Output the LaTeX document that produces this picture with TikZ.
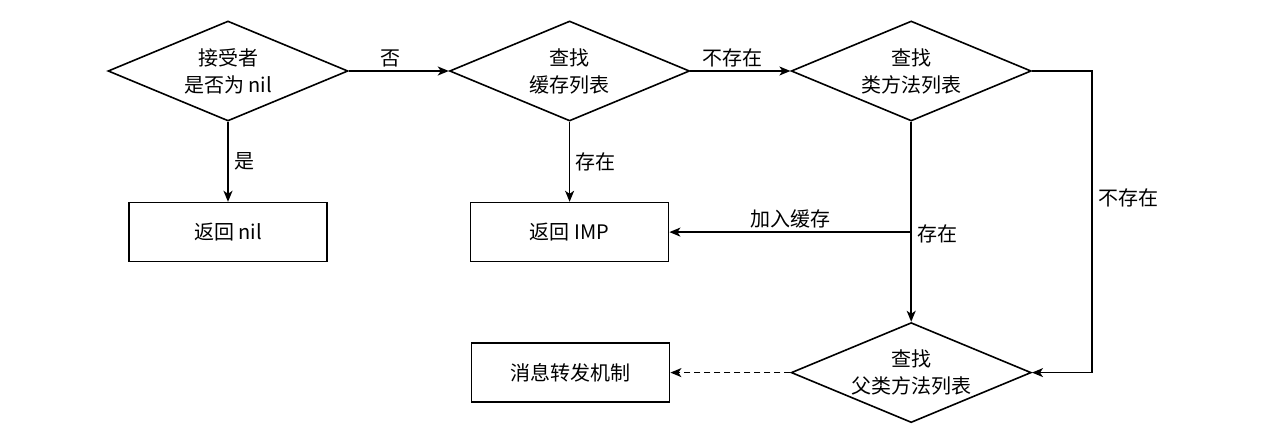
\documentclass[tikz,border=0pt]{standalone}
\usepackage{fontspec}
\setmainfont{Noto Sans CJK SC}
\usepackage{tikz}
\usetikzlibrary{arrows.meta, positioning, shapes.geometric}
\tikzset{
  decision/.style={
    diamond, draw=black, line width=1.6pt, aspect=2.4, inner sep=0pt,
    minimum width=240pt, minimum height=100pt, align=center
  },
  action/.style={
    draw=black, line width=1.6pt,
    minimum width=198pt, minimum height=59pt, align=center
  },
  arr/.style={-{Stealth[length=11pt, width=9pt, inset=3pt]}, line width=1.6pt},
  darr/.style={arr, dash pattern=on 6pt off 4pt}
}

\begin{document}
\begin{tikzpicture}[x=1pt, y=-1pt, every node/.style={font=\fontsize{20}{27}\selectfont}]
    \useasboundingbox (0,0) rectangle (1278,444);

    \node[decision] (recv) at (228,71) {接受者\\是否为 nil};
    \node[decision, right=100pt of recv] (cache) {查找\\缓存列表};
    \node[decision, right=100pt of cache] (clsm) {查找\\类方法列表};
    \node[action, below=80pt of recv] (retnil) {返回 nil};
    \node[action, below=80pt of cache] (retimp) {返回 IMP};
    \node[decision, below=200pt of clsm] (supm) {查找\\父类方法列表};
    \node[action, left=120pt of supm] (fwd) {消息转发机制};

    \draw[arr] (recv) -- node[above, pos=0.42] {否} (cache);
    \draw[arr] (recv) -- node[right, xshift=2pt] {是} (retnil);
    \draw[arr] (cache) -- node[above, pos=0.42] {不存在} (clsm);
    \draw[arr] (cache) -- node[right, xshift=2pt] {存在} (retimp);
    \draw[arr] (clsm) -- node[right, pos=0.56, xshift=2pt] {存在} (supm);
    \coordinate (join) at (clsm |- retimp);
    \draw[arr] (join) -- node[above] {加入缓存} (retimp);
    \draw[arr] (clsm.east) -- ++(60,0) |- node[right, pos=0.21, xshift=2pt] {不存在} (supm.east);
    \draw[darr] (supm) -- (fwd);
\end{tikzpicture}
\end{document}
